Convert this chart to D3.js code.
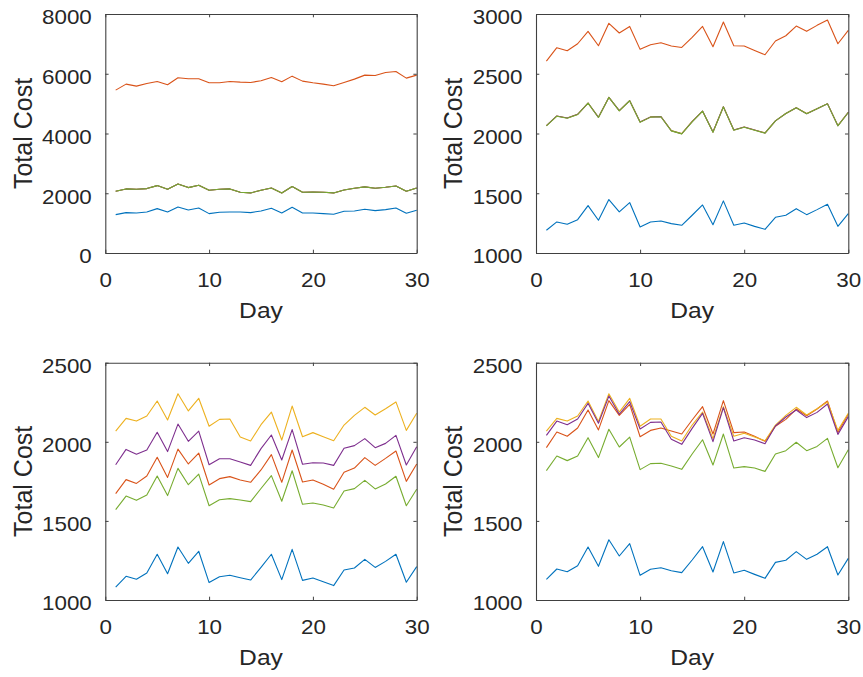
<!DOCTYPE html>
<html><head><meta charset="utf-8">
<script src="https://cdn.jsdelivr.net/npm/d3@7/dist/d3.min.js"></script>
<style>body{margin:0;background:#fff}svg{display:block}</style>
</head><body><svg id="c" width="863" height="677"></svg>
<script>
// ---------- data ----------
const days = [1,2,3,4,5,6,7,8,9,10,11,12,13,14,15,16,17,18,19,20,21,22,23,24,25,26,27,28,29,30];
const xTicks = [0,10,20,30];
const yTicks1 = [0,2000,4000,6000,8000];
const yTicks2 = [1000,1500,2000,2500,3000];
const yTicks3 = [1000,1500,2000,2500];
const yTicks4 = [1000,1500,2000,2500];
const xLabel = "Day";
const yLabel = "Total Cost";

// panel 1 (top-left)
const p1Blue   = [1285,1352,1340,1374,1486,1374,1541,1441,1508,1318,1363,1374,1374,1352,1408,1497,1340,1530,1340,1340,1318,1296,1397,1408,1463,1419,1452,1508,1329,1430];
const p1Orange = [5452,5652,5585,5675,5741,5630,5864,5831,5831,5697,5697,5741,5719,5708,5764,5876,5730,5920,5753,5697,5652,5597,5708,5820,5954,5942,6043,6077,5853,5954];
const p1Yellow = [2066,2145,2133,2156,2256,2133,2312,2189,2267,2100,2133,2145,2033,2011,2100,2178,2011,2223,2033,2044,2033,2011,2111,2167,2212,2167,2200,2245,2066,2178];
const p1Purple = [2066,2145,2133,2156,2256,2133,2312,2189,2267,2100,2133,2145,2033,2011,2100,2178,2011,2223,2033,2044,2033,2011,2111,2167,2212,2167,2200,2245,2066,2178];
const p1Green  = [2066,2145,2133,2156,2256,2133,2312,2189,2267,2100,2133,2145,2033,2011,2100,2178,2011,2223,2033,2044,2033,2011,2111,2167,2212,2167,2200,2245,2066,2178];

// panel 2 (top-right)
const p2Blue   = [1190,1260,1240,1279,1397,1274,1447,1344,1422,1218,1260,1268,1246,1232,1316,1402,1237,1436,1232,1251,1223,1198,1299,1316,1371,1321,1363,1408,1223,1330];
const p2Orange = [2606,2718,2693,2751,2855,2734,2922,2841,2896,2704,2743,2760,2732,2720,2804,2896,2726,2933,2734,2732,2695,2659,2774,2818,2899,2855,2905,2950,2751,2863];
const p2Yellow = [2066,2146,2130,2160,2255,2136,2303,2192,2275,2096,2139,2142,2024,1999,2101,2188,2012,2224,2030,2055,2030,2005,2106,2167,2216,2167,2208,2250,2066,2178];
const p2Purple = [2066,2147,2129,2161,2255,2135,2302,2191,2275,2096,2138,2141,2023,1998,2100,2188,2012,2224,2029,2054,2029,2004,2106,2167,2216,2166,2208,2249,2065,2177];
const p2Green  = [2064,2145,2128,2159,2254,2134,2302,2190,2274,2095,2137,2140,2022,1997,2098,2187,2011,2223,2028,2053,2028,2003,2106,2167,2215,2165,2207,2248,2064,2176];

// panel 3 (bottom-left)
const p3Blue   = [1082,1150,1131,1171,1289,1166,1335,1232,1308,1110,1147,1156,1141,1126,1206,1289,1129,1320,1124,1139,1116,1091,1190,1202,1257,1206,1244,1289,1112,1211];
const p3Orange = [1672,1761,1737,1784,1902,1775,1954,1860,1929,1727,1767,1780,1759,1744,1822,1919,1744,1948,1746,1759,1731,1700,1807,1834,1900,1851,1895,1942,1750,1860];
const p3Yellow = [2068,2148,2131,2163,2258,2138,2304,2195,2275,2098,2142,2144,2030,2005,2108,2188,2011,2226,2032,2058,2032,2007,2106,2167,2218,2169,2209,2252,2072,2180];
const p3Purple = [1855,1952,1921,1948,2060,1938,2112,2003,2068,1855,1893,1893,1872,1851,1957,2043,1885,2077,1858,1868,1866,1851,1959,1976,2020,1963,1990,2041,1853,1969];
const p3Green  = [1571,1657,1630,1664,1784,1660,1832,1729,1796,1596,1634,1641,1632,1622,1705,1786,1624,1817,1605,1613,1600,1582,1689,1704,1756,1702,1733,1782,1596,1700];

// panel 4 (bottom-right)
const p4Blue   = [1131,1196,1179,1217,1335,1213,1381,1278,1356,1156,1194,1204,1185,1173,1253,1337,1177,1369,1171,1188,1162,1137,1238,1251,1306,1257,1289,1337,1158,1263];
const p4Orange = [1963,2062,2035,2087,2201,2075,2260,2167,2237,2032,2072,2087,2068,2049,2138,2222,2049,2260,2058,2062,2035,2003,2098,2142,2207,2165,2207,2258,2060,2174];
const p4Yellow = [2068,2148,2131,2163,2258,2129,2304,2188,2275,2098,2144,2144,2035,2005,2106,2188,2020,2222,2035,2054,2030,2007,2106,2167,2218,2169,2209,2252,2072,2180];
const p4Purple = [2041,2131,2108,2144,2243,2117,2289,2174,2254,2081,2123,2125,2016,1984,2085,2180,2001,2216,2005,2026,2011,1988,2100,2157,2201,2153,2186,2239,2047,2159];
const p4Green  = [1818,1910,1881,1910,2026,1900,2079,1967,2030,1824,1862,1864,1847,1826,1923,2013,1853,2049,1834,1843,1834,1813,1923,1944,1997,1944,1971,2022,1836,1950];

// ---------- drawing ----------
const colors = {blue:"#0072BD", orange:"#D95319", yellow:"#EDB120", purple:"#7E2F8E", green:"#77AC30"};
const panels = [
  {box:[105.3,14,416.7,253], yDomain:[0,8000], yTicks:yTicks1,
   series:[[p1Blue,"blue"],[p1Orange,"orange"],[p1Yellow,"yellow"],[p1Purple,"purple"],[p1Green,"green"]]},
  {box:[536,14,848.3,253], yDomain:[1000,3000], yTicks:yTicks2,
   series:[[p2Blue,"blue"],[p2Orange,"orange"],[p2Yellow,"yellow"],[p2Purple,"purple"],[p2Green,"green"]]},
  {box:[105.3,362.7,416.7,600], yDomain:[1000,2500], yTicks:yTicks3,
   series:[[p3Blue,"blue"],[p3Orange,"orange"],[p3Yellow,"yellow"],[p3Purple,"purple"],[p3Green,"green"]]},
  {box:[536,362.7,848.3,600], yDomain:[1000,2500], yTicks:yTicks4,
   series:[[p4Blue,"blue"],[p4Orange,"orange"],[p4Yellow,"yellow"],[p4Purple,"purple"],[p4Green,"green"]]}
];

const svg = d3.select("#c");
const FONT = "'Liberation Sans', Arial, Helvetica, sans-serif";
const TXT = "#262626";
const SX = 1.12;
const TL = 3.3;

panels.forEach(p => {
  const [x0,y0,x1,y1] = p.box;
  const x = d3.scaleLinear().domain([0,30]).range([x0,x1]);
  const y = d3.scaleLinear().domain(p.yDomain).range([y1,y0]);
  const g = svg.append("g");

  const line = d3.line().x((d,i) => x(days[i])).y(d => y(d));
  p.series.forEach(([vals,c]) => {
    g.append("path").datum(vals).attr("d", line)
      .attr("fill","none").attr("stroke", colors[c])
      .attr("stroke-width", 1.1).attr("stroke-linejoin","round");
  });

  const styleAxis = sel => {
    sel.select(".domain").attr("stroke", "#404040").attr("stroke-width", 1.1);
    sel.selectAll(".tick line").attr("stroke", "#404040").attr("stroke-width", 1);
  };

  // bottom
  const bx = g.append("g").attr("transform", `translate(0,${y1})`)
    .call(d3.axisBottom(x).tickValues(xTicks).tickSizeInner(-TL).tickSizeOuter(0).tickFormat(d3.format("d")));
  styleAxis(bx);
  bx.selectAll(".tick text").attr("x",0).attr("y",0).attr("dy",null)
    .attr("transform", `translate(0,34) scale(${SX},1)`)
    .attr("text-anchor","middle")
    .style("font-family", FONT).style("font-size","20px").attr("fill", TXT);

  // top
  const tx = g.append("g").attr("transform", `translate(0,${y0})`)
    .call(d3.axisTop(x).tickValues(xTicks).tickSizeInner(-TL).tickSizeOuter(0).tickFormat(""));
  styleAxis(tx);

  // left
  const ly = g.append("g").attr("transform", `translate(${x0},0)`)
    .call(d3.axisLeft(y).tickValues(p.yTicks).tickSizeInner(-TL).tickSizeOuter(0).tickFormat(d3.format("d")));
  styleAxis(ly);
  ly.selectAll(".tick text").attr("x",0).attr("y",0).attr("dy",null)
    .attr("transform", `translate(-13.5,9.8) scale(${SX},1)`)
    .attr("text-anchor","end")
    .style("font-family", FONT).style("font-size","20px").attr("fill", TXT);

  // right
  const ry = g.append("g").attr("transform", `translate(${x1},0)`)
    .call(d3.axisRight(y).tickValues(p.yTicks).tickSizeInner(-TL).tickSizeOuter(0).tickFormat(""));
  styleAxis(ry);

  // labels
  g.append("text").text(xLabel)
    .attr("transform", `translate(${(x0+x1)/2},${y1+65}) scale(${SX},1)`)
    .attr("text-anchor","middle")
    .style("font-family", FONT).style("font-size","22px").attr("fill", TXT);
  g.append("text").text(yLabel)
    .attr("transform", `translate(${x0-73.6},${(y0+y1)/2}) rotate(-90)`)
    .attr("text-anchor","middle")
    .style("font-family", FONT).style("font-size","25px").attr("fill", TXT);
});
</script>
</body></html>
